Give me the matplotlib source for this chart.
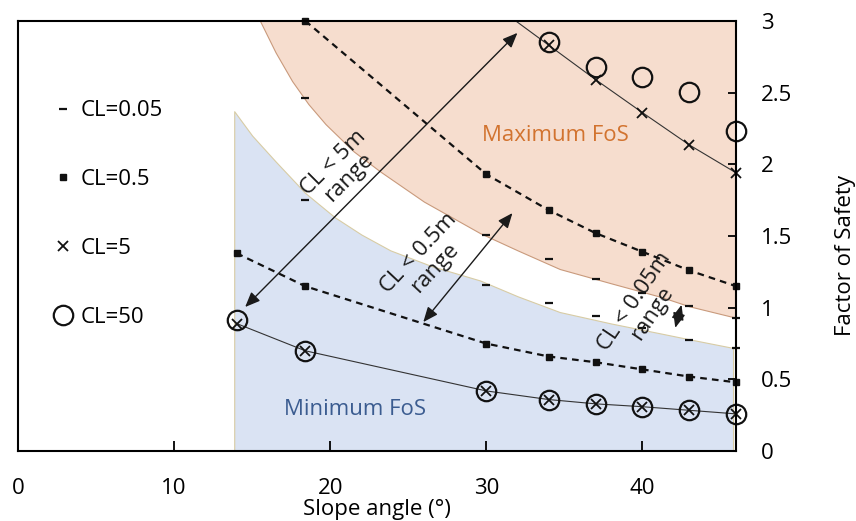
import numpy as np
import matplotlib
matplotlib.use('Agg')
from matplotlib import pyplot as plt

plt.rcParams['font.family'] = ['Open Sans', 'DejaVu Sans']

# slope angles (deg)
angles = [14, 18.4, 30, 34, 37, 40, 43, 46]
nan = np.nan

# factor of safety, upper / lower value per characteristic length
cl005_up = [nan, 2.46, 1.51, 1.34, 1.20, 1.10, 1.01, 0.93]
cl005_lo = [nan, 1.75, 1.16, 1.03, 0.94, 0.86, 0.775, 0.72]
cl05_up = [nan, 3.0, 1.93, 1.68, 1.52, 1.39, 1.26, 1.15]
cl05_lo = [1.38, 1.15, 0.75, 0.66, 0.62, 0.57, 0.52, 0.48]
cl5_up = [nan, nan, 3.15, 2.83, 2.59, 2.36, 2.135, 1.94]
cl5_lo = [0.89, 0.70, 0.42, 0.36, 0.33, 0.31, 0.285, 0.26]
cl50_up = [nan, nan, nan, 2.85, 2.68, 2.61, 2.505, 2.23]
cl50_lo = [0.915, 0.70, 0.42, 0.36, 0.33, 0.31, 0.285, 0.26]

# shaded zones (boundaries)
max_x = [15.5, 16.5, 17.56, 18.6, 19.7, 21.5, 23.2, 26, 29.6, 32, 34.7, 38, 41.2, 43, 46]
max_y = [3.0, 2.78, 2.58, 2.42, 2.28, 2.09, 1.95, 1.74, 1.52, 1.40, 1.27, 1.17, 1.075, 1.01, 0.93]
min_x = [13.85, 15, 16.5, 18.4, 20.3, 22, 23.85, 26.5, 29.6, 32, 34.7, 38, 41.2, 43, 45.8]
min_y = [2.37, 2.20, 2.02, 1.80, 1.63, 1.51, 1.40, 1.29, 1.19, 1.08, 0.97, 0.89, 0.82, 0.78, 0.72]

xticks = [0, 10, 20, 30, 40]
yticks = [0, 0.5, 1, 1.5, 2, 2.5, 3]
ytick_labels = ['0', '0.5', '1', '1.5', '2', '2.5', '3']
ymax = 3


def shown(vals):
    # points above the top of the axis are not drawn as markers
    v = np.array(vals, dtype=float)
    return np.where(v <= ymax + 1e-9, v, nan)


fig, ax = plt.subplots(figsize=(8.56, 5.21), dpi=100)
fig.subplots_adjust(left=0.021, right=0.86, bottom=0.134, top=0.96)

ax.fill_between(min_x, 0, min_y, facecolor='#DAE3F3', edgecolor='#D8CCA4', lw=0.8, zorder=1)
ax.fill_between(max_x, max_y, ymax, facecolor='#F6DDCE', edgecolor='#C99A7C', lw=0.8, zorder=1)

ax.text(34.4, 2.2, 'Maximum FoS', color='#D2732F', fontsize=16, ha='center', va='center')
ax.text(21.6, 0.29, 'Minimum FoS', color='#3B5C90', fontsize=16, ha='center', va='center')

dash = (0, (3, 2.3))
ax.plot(angles, cl5_up, color='#333333', lw=0.8, zorder=2)
ax.plot(angles, cl5_lo, color='#333333', lw=0.8, zorder=2)
ax.plot(angles, cl05_up, color='#111111', lw=1.6, ls=dash, zorder=2)
ax.plot(angles, cl05_lo, color='#111111', lw=1.6, ls=dash, zorder=2)

k = '#111111'
h1, = ax.plot(angles, shown(cl005_up), ls='none', marker='_', ms=6, mew=1.6, color=k, clip_on=False, zorder=3)
ax.plot(angles, shown(cl005_lo), ls='none', marker='_', ms=6, mew=1.6, color=k, clip_on=False, zorder=3)
h2, = ax.plot(angles, shown(cl05_up), ls='none', marker='s', ms=5, color=k, clip_on=False, zorder=3)
ax.plot(angles, shown(cl05_lo), ls='none', marker='s', ms=5, color=k, clip_on=False, zorder=3)
h3, = ax.plot(angles, shown(cl5_up), ls='none', marker='x', ms=7, mew=1.3, color=k, clip_on=False, zorder=3)
ax.plot(angles, shown(cl5_lo), ls='none', marker='x', ms=7, mew=1.3, color=k, clip_on=False, zorder=3)
h4, = ax.plot(angles, shown(cl50_up), ls='none', marker='o', ms=14, mew=1.6, mfc='none', color=k, clip_on=False, zorder=3)
ax.plot(angles, shown(cl50_lo), ls='none', marker='o', ms=14, mew=1.6, mfc='none', color=k, clip_on=False, zorder=3)

# range arrows
arr = dict(arrowstyle='<|-|>,head_length=0.6,head_width=0.25', color='#1a1a1a',
           lw=1.0, mutation_scale=15, shrinkA=0, shrinkB=0)
ax.annotate('', xy=(31.99, 2.916), xytext=(14.55, 1.005), arrowprops=arr, zorder=4)
ax.annotate('', xy=(31.67, 1.66), xytext=(25.96, 0.90), arrowprops=arr, zorder=4)
ax.annotate('', xy=(42.5, 1.02), xytext=(42.1, 0.86), arrowprops=arr, zorder=4)

txt = dict(ha='center', va='center', rotation_mode='anchor', multialignment='center',
           fontsize=16, color='#1a1a1a', linespacing=1.05, zorder=5)
ax.text(20.7, 1.96, 'CL < 5m\nrange', rotation=45, **txt)
ax.text(26.2, 1.33, 'CL < 0.5m\nrange', rotation=47, **txt)
ax.text(40.06, 1.0, 'CL < 0.05m\nrange', rotation=56, **txt)

ax.set_xlim(0, 46)
ax.set_ylim(0, ymax)
ax.set_xticks(xticks)
ax.set_yticks(yticks)
ax.set_yticklabels(ytick_labels)
ax.yaxis.tick_right()
ax.tick_params(axis='x', direction='in', length=7, width=1.3, pad=19, labelsize=16)
ax.tick_params(axis='y', direction='in', length=6, width=1.3, pad=18, labelsize=16,
               left=False, right=True)
for s in ax.spines.values():
    s.set_linewidth(1.5)
    s.set_zorder(6)

ax.set_xlabel('Slope angle (°)', fontsize=16, labelpad=0)
ax.text(1.152, 0.455, 'Factor of Safety', transform=ax.transAxes, rotation=90,
        ha='center', va='center', fontsize=16)

ax.legend(handles=[h1, h2, h3, h4], labels=['CL=0.05', 'CL=0.5', 'CL=5', 'CL=50'],
          loc='upper left', bbox_to_anchor=(0.05, 0.815), frameon=False, fontsize=16,
          handlelength=0.8, handletextpad=0.4, labelspacing=2.15, borderpad=0,
          borderaxespad=0)

plt.savefig('out.png', dpi=100)
